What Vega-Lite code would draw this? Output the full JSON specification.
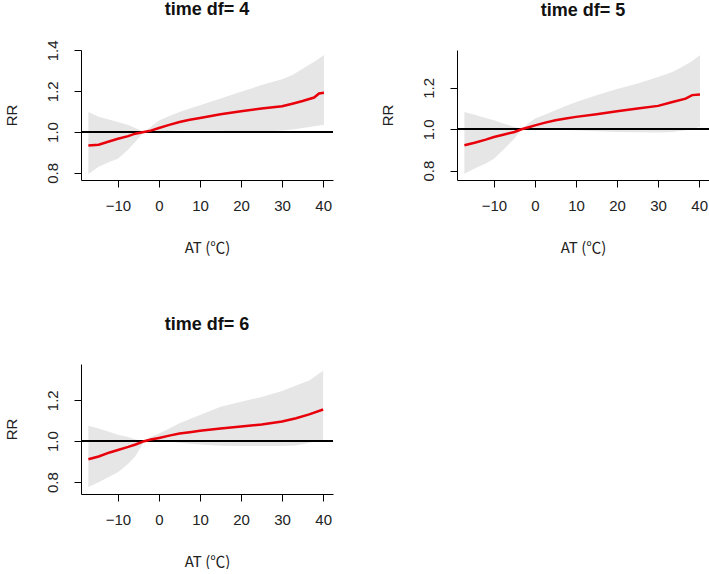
{
  "$schema": "https://vega.github.io/schema/vega-lite/v6.json",
  "background": "white",
  "padding": {"left": 3, "top": 0, "right": 0, "bottom": 0},
  "datasets": {
    "rr": [
      {"df": 4, "at": -17.2, "rr": 0.934, "lo": 0.795, "hi": 1.098},
      {"df": 4, "at": -14.7, "rr": 0.938, "lo": 0.83, "hi": 1.075},
      {"df": 4, "at": -12, "rr": 0.955, "lo": 0.855, "hi": 1.06},
      {"df": 4, "at": -10, "rr": 0.967, "lo": 0.869, "hi": 1.049},
      {"df": 4, "at": -7.5, "rr": 0.98, "lo": 0.915, "hi": 1.035},
      {"df": 4, "at": -5.8, "rr": 0.992, "lo": 0.951, "hi": 1.02},
      {"df": 4, "at": -3.7, "rr": 1.0, "lo": 1.0, "hi": 1.0},
      {"df": 4, "at": -2, "rr": 1.007, "lo": 0.999, "hi": 1.025},
      {"df": 4, "at": 0, "rr": 1.02, "lo": 1.003, "hi": 1.057},
      {"df": 4, "at": 2.5, "rr": 1.035, "lo": 1.005, "hi": 1.078},
      {"df": 4, "at": 5, "rr": 1.049, "lo": 1.007, "hi": 1.098},
      {"df": 4, "at": 7.5, "rr": 1.06, "lo": 1.008, "hi": 1.115},
      {"df": 4, "at": 10, "rr": 1.069, "lo": 1.008, "hi": 1.131},
      {"df": 4, "at": 15, "rr": 1.087, "lo": 1.006, "hi": 1.164},
      {"df": 4, "at": 20, "rr": 1.102, "lo": 1.003, "hi": 1.197},
      {"df": 4, "at": 25, "rr": 1.115, "lo": 1.002, "hi": 1.23},
      {"df": 4, "at": 30, "rr": 1.126, "lo": 1.008, "hi": 1.259},
      {"df": 4, "at": 32.5, "rr": 1.139, "lo": 1.012, "hi": 1.28},
      {"df": 4, "at": 35, "rr": 1.152, "lo": 1.02, "hi": 1.31},
      {"df": 4, "at": 37.8, "rr": 1.169, "lo": 1.028, "hi": 1.345},
      {"df": 4, "at": 39, "rr": 1.189, "lo": 1.032, "hi": 1.36},
      {"df": 4, "at": 40.2, "rr": 1.192, "lo": 1.036, "hi": 1.377},
      {"df": 5, "at": -17.2, "rr": 0.923, "lo": 0.785, "hi": 1.084},
      {"df": 5, "at": -14.7, "rr": 0.935, "lo": 0.81, "hi": 1.07},
      {"df": 5, "at": -12, "rr": 0.95, "lo": 0.835, "hi": 1.055},
      {"df": 5, "at": -10, "rr": 0.963, "lo": 0.858, "hi": 1.044},
      {"df": 5, "at": -7.5, "rr": 0.975, "lo": 0.905, "hi": 1.027},
      {"df": 5, "at": -5, "rr": 0.987, "lo": 0.955, "hi": 1.011},
      {"df": 5, "at": -3.3, "rr": 1.0, "lo": 1.0, "hi": 1.0},
      {"df": 5, "at": -1.5, "rr": 1.01, "lo": 1.003, "hi": 1.03},
      {"df": 5, "at": 0, "rr": 1.019, "lo": 1.006, "hi": 1.052},
      {"df": 5, "at": 2.5, "rr": 1.032, "lo": 1.003, "hi": 1.072},
      {"df": 5, "at": 5, "rr": 1.044, "lo": 1.0, "hi": 1.092},
      {"df": 5, "at": 7.5, "rr": 1.052, "lo": 0.997, "hi": 1.112},
      {"df": 5, "at": 10, "rr": 1.06, "lo": 0.995, "hi": 1.132},
      {"df": 5, "at": 15, "rr": 1.073, "lo": 0.99, "hi": 1.165},
      {"df": 5, "at": 20, "rr": 1.087, "lo": 0.987, "hi": 1.194},
      {"df": 5, "at": 25, "rr": 1.1, "lo": 0.986, "hi": 1.221},
      {"df": 5, "at": 30, "rr": 1.113, "lo": 0.984, "hi": 1.253},
      {"df": 5, "at": 33.5, "rr": 1.132, "lo": 0.987, "hi": 1.277},
      {"df": 5, "at": 36.7, "rr": 1.148, "lo": 0.995, "hi": 1.31},
      {"df": 5, "at": 38.3, "rr": 1.165, "lo": 1.002, "hi": 1.33},
      {"df": 5, "at": 40.2, "rr": 1.168, "lo": 1.011, "hi": 1.358},
      {"df": 6, "at": -17.2, "rr": 0.912, "lo": 0.776, "hi": 1.075},
      {"df": 6, "at": -14.7, "rr": 0.925, "lo": 0.8, "hi": 1.062},
      {"df": 6, "at": -12, "rr": 0.945, "lo": 0.828, "hi": 1.045},
      {"df": 6, "at": -10, "rr": 0.957, "lo": 0.848, "hi": 1.032},
      {"df": 6, "at": -7.5, "rr": 0.972, "lo": 0.89, "hi": 1.02},
      {"df": 6, "at": -5.7, "rr": 0.984, "lo": 0.928, "hi": 1.008},
      {"df": 6, "at": -3.6, "rr": 1.0, "lo": 1.0, "hi": 1.0},
      {"df": 6, "at": -2, "rr": 1.008, "lo": 1.002, "hi": 1.02},
      {"df": 6, "at": 0, "rr": 1.016, "lo": 1.005, "hi": 1.037},
      {"df": 6, "at": 2.5, "rr": 1.027, "lo": 0.998, "hi": 1.062},
      {"df": 6, "at": 5, "rr": 1.037, "lo": 0.992, "hi": 1.088},
      {"df": 6, "at": 7.5, "rr": 1.044, "lo": 0.988, "hi": 1.108},
      {"df": 6, "at": 10, "rr": 1.051, "lo": 0.984, "hi": 1.128},
      {"df": 6, "at": 15, "rr": 1.062, "lo": 0.978, "hi": 1.168},
      {"df": 6, "at": 20, "rr": 1.072, "lo": 0.976, "hi": 1.192},
      {"df": 6, "at": 25, "rr": 1.082, "lo": 0.976, "hi": 1.216},
      {"df": 6, "at": 30, "rr": 1.096, "lo": 0.977, "hi": 1.245},
      {"df": 6, "at": 33.4, "rr": 1.112, "lo": 0.979, "hi": 1.272},
      {"df": 6, "at": 36.6, "rr": 1.131, "lo": 0.992, "hi": 1.296},
      {"df": 6, "at": 40, "rr": 1.155, "lo": 1.008, "hi": 1.344}
    ]
  },
  "config": {
    "view": {"stroke": null},
    "font": "Liberation Sans",
    "axis": {
      "grid": false, "domainColor": "#000", "tickColor": "#000",
      "labelColor": "#222", "titleColor": "#222",
      "labelFont": "Liberation Sans", "titleFont": "Liberation Sans",
      "labelFontSize": 15, "titleFontSize": 15, "titleFontWeight": "normal",
      "tickSize": 7, "domainWidth": 1, "tickWidth": 1, "labelOverlap": false, "labelFlush": false
    },
    "title": {"fontSize": 18, "fontWeight": "bold", "color": "#111", "font": "Liberation Sans", "offset": 30}
  },
  "columns": 2,
  "spacing": {"row": 184, "column": 124},
  "bounds": "flush",
  "concat": [
    {
      "width": 252, "height": 130,
      "title": {"text": "time df= 4", "offset": 21},
      "data": {"name": "rr"},
      "transform": [{"filter": "datum.df == 4"}],
      "layer": [
        {"mark": {"type": "area", "color": "#e6e6e6"},
         "encoding": {
           "x": {"field": "at", "type": "quantitative", "scale": {"domain": [-19, 42.4], "nice": false, "zero": false},
             "axis": {"values": [-10, 0, 10, 20, 30, 40], "title": "AT (℃)", "titleFont": "Noto Sans CJK SC", "labelPadding": 11, "titlePadding": 27}},
           "y": {"field": "lo", "type": "quantitative", "title": "RR", "scale": {"domain": [0.765, 1.402], "nice": false, "zero": false},
             "axis": {"values": [0.8, 0.9, 1.0, 1.1, 1.2, 1.3, 1.4], "labelExpr": "round(datum.value*10)%2==0 ? format(datum.value,'.1f') : ''", "labelAngle": -90, "labelAlign": "center", "labelBaseline": "bottom", "labelPadding": 14, "titlePadding": 26}},
           "y2": {"field": "hi"}}},
        {"mark": {"type": "rule", "color": "#000", "strokeWidth": 1}, "encoding": {"y": {"datum": 1, "title": "RR"}}},
        {"mark": {"type": "line", "color": "#e8000b", "strokeWidth": 2.5}, "encoding": {"x": {"field": "at", "type": "quantitative", "title": "AT (℃)"}, "y": {"field": "rr", "type": "quantitative", "title": "RR"}}}
      ]
    },
    {
      "width": 252, "height": 130,
      "title": {"text": "time df= 5"},
      "data": {"name": "rr"},
      "transform": [{"filter": "datum.df == 5"}],
      "layer": [
        {"mark": {"type": "area", "color": "#e6e6e6"},
         "encoding": {
           "x": {"field": "at", "type": "quantitative", "scale": {"domain": [-19, 42.4], "nice": false, "zero": false},
             "axis": {"values": [-10, 0, 10, 20, 30, 40], "title": "AT (℃)", "titleFont": "Noto Sans CJK SC", "labelPadding": 11, "titlePadding": 27}},
           "y": {"field": "lo", "type": "quantitative", "title": "RR", "scale": {"domain": [0.755, 1.383], "nice": false, "zero": false},
             "axis": {"values": [0.8, 0.9, 1.0, 1.1, 1.2, 1.3], "labelExpr": "round(datum.value*10)%2==0 ? format(datum.value,'.1f') : ''", "labelAngle": -90, "labelAlign": "center", "labelBaseline": "bottom", "labelPadding": 14, "titlePadding": 26}},
           "y2": {"field": "hi"}}},
        {"mark": {"type": "rule", "color": "#000", "strokeWidth": 1}, "encoding": {"y": {"datum": 1, "title": "RR"}}},
        {"mark": {"type": "line", "color": "#e8000b", "strokeWidth": 2.5}, "encoding": {"x": {"field": "at", "type": "quantitative", "title": "AT (℃)"}, "y": {"field": "rr", "type": "quantitative", "title": "RR"}}}
      ]
    },
    {
      "width": 252, "height": 130,
      "title": {"text": "time df= 6"},
      "data": {"name": "rr"},
      "transform": [{"filter": "datum.df == 6"}],
      "layer": [
        {"mark": {"type": "area", "color": "#e6e6e6"},
         "encoding": {
           "x": {"field": "at", "type": "quantitative", "scale": {"domain": [-19, 42.4], "nice": false, "zero": false},
             "axis": {"values": [-10, 0, 10, 20, 30, 40], "title": "AT (℃)", "titleFont": "Noto Sans CJK SC", "labelPadding": 11, "titlePadding": 27}},
           "y": {"field": "lo", "type": "quantitative", "title": "RR", "scale": {"domain": [0.742, 1.377], "nice": false, "zero": false},
             "axis": {"values": [0.8, 0.9, 1.0, 1.1, 1.2, 1.3], "labelExpr": "round(datum.value*10)%2==0 ? format(datum.value,'.1f') : ''", "labelAngle": -90, "labelAlign": "center", "labelBaseline": "bottom", "labelPadding": 14, "titlePadding": 26}},
           "y2": {"field": "hi"}}},
        {"mark": {"type": "rule", "color": "#000", "strokeWidth": 1}, "encoding": {"y": {"datum": 1, "title": "RR"}}},
        {"mark": {"type": "line", "color": "#e8000b", "strokeWidth": 2.5}, "encoding": {"x": {"field": "at", "type": "quantitative", "title": "AT (℃)"}, "y": {"field": "rr", "type": "quantitative", "title": "RR"}}}
      ]
    }
  ]
}
